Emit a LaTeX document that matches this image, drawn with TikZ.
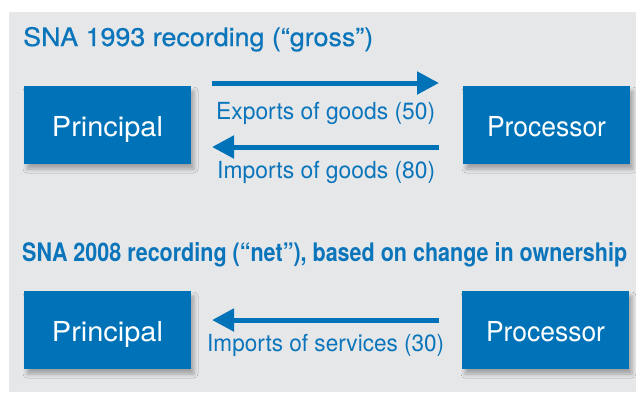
\documentclass[tikz,border=0pt]{standalone}
\usepackage{fontspec}
\setmainfont{TeX Gyre Heros}
\newfontfamily\semibold[FakeBold=0.6]{TeX Gyre Heros}
\usepackage{graphicx}
\usetikzlibrary{arrows.meta,shadows.blur}
\definecolor{boxblue}{HTML}{0073B8}
\definecolor{txtblue}{HTML}{0B75BB}
\definecolor{bggray}{HTML}{E6E7E9}
\newcommand\fitto[2]{\resizebox{#1}{\height}{#2}}
\tikzset{
  entity/.style={fill=boxblue, draw=none, inner sep=0pt, minimum width=167pt, minimum height=78pt,
    text=white, font=\fontsize{27.5}{27.5}\selectfont, text height=22pt, text depth=0pt,
    blur shadow={shadow xshift=3pt, shadow yshift=-5pt, shadow blur radius=4pt, shadow opacity=30}},
  title/.style={anchor=base west, inner sep=0pt, text=txtblue, font=\fontsize{25.5}{25.5}\selectfont\semibold},
  flowlabel/.style={anchor=base west, inner sep=0pt, text=txtblue, font=\fontsize{23.5}{23.5}\selectfont},
  flow/.style={draw=boxblue, line width=5pt, -{Triangle[length=22pt,width=22pt]}}
}
\begin{document}
\begin{tikzpicture}[x=1pt,y=1pt]
\useasboundingbox (0,0) rectangle (636,-392);
\fill[white] (0,0) rectangle (636,-392);
\fill[bggray] (9,-12) rectangle (636,-392);

% Section 1
\node[title] (t1) at (23,-46) {\fitto{350pt}{SNA 1993 recording (“gross”)}};
\node[entity] (p1) at (107.5,-125) {\fitto{111pt}{Principal}};
\node[entity] (q1) at (546.5,-125) {\fitto{119pt}{Processor}};
\coordinate (e1s) at (212,-83);
\coordinate (e1e) at (439,-83);
\draw[flow] (e1s) -- (e1e);
\node[flowlabel] (l1) at (216,-119) {\fitto{219pt}{Exports of goods (50)}};
\coordinate (i1s) at (439,-147);
\coordinate (i1e) at (212,-147);
\draw[flow] (i1s) -- (i1e);
\node[flowlabel] (l2) at (217,-178) {\fitto{218pt}{Imports of goods (80)}};

% Section 2
\node[title, font=\fontsize{25.5}{25.5}\selectfont\bfseries] (t2) at (22,-261) {\fitto{605pt}{SNA 2008 recording (“net”), based on change in ownership}};
\node[entity] (p2) at (107.5,-330) {\fitto{111pt}{Principal}};
\node[entity] (q2) at (545.5,-330) {\fitto{119pt}{Processor}};
\coordinate (s1s) at (439,-320);
\coordinate (s1e) at (212,-320);
\draw[flow] (s1s) -- (s1e);
\node[flowlabel] (l3) at (207,-351) {\fitto{237pt}{Imports of services (30)}};
\end{tikzpicture}
\end{document}
